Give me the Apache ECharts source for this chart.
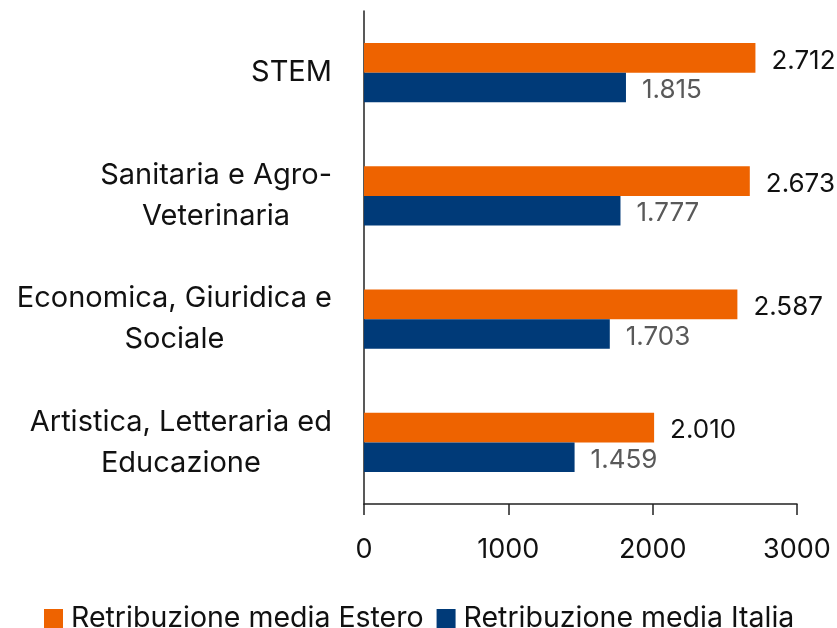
<!DOCTYPE html>
<html>
	<head>
		<meta charset="utf-8">
		<title></title>
		<script src="https://cdn.jsdelivr.net/npm/echarts@6/dist/echarts.min.js"></script>
		<style>
			html, body { margin: 0; padding: 0; background: #fff; }
			#chart { width: 837px; height: 628px; }
		</style>
	</head>
	<body>
		<div id="chart"></div>
		<script>
			// dati
			const categories = [
				'STEM',
				'Sanitaria e Agro-\nVeterinaria',
				'Economica, Giuridica e\nSociale',
				'Artistica, Letteraria ed\nEducazione'
			];
			const estero = [2712, 2673, 2587, 2010];
			const italia = [1815, 1777, 1703, 1459];
			const xTicks = [0, 1000, 2000, 3000];

			const font = 'Inter, "Noto Sans", sans-serif';
			const fmt = function (p) {
				return p.value.toLocaleString('de-DE');
			};

			const chart = echarts.init(document.getElementById('chart'), null, {renderer: 'canvas'});
			const option = {
				animation: false,
				textStyle: { fontFamily: font },
				grid: { left: 364, right: 40, top: 11, bottom: 124 },
				legend: {
					left: 44,
					top: 604,
					padding: 0,
					icon: 'rect',
					itemWidth: 19,
					itemHeight: 19,
					itemGap: 13,
					textStyle: { fontSize: 28.5, color: '#111', fontFamily: font, padding: [0, 0, 0, 3] },
					data: ['Retribuzione media Estero', 'Retribuzione media Italia']
				},
				xAxis: {
					type: 'value',
					min: xTicks[0],
					max: xTicks[xTicks.length - 1],
					interval: 1000,
					axisLine: { show: true, lineStyle: { color: '#222', width: 1.5 } },
					axisTick: { show: true, length: 11, lineStyle: { color: '#222', width: 1.5 } },
					axisLabel: { fontSize: 27, color: '#111', margin: 32, fontFamily: font, formatter: function (v) { return String(v); } },
					splitLine: { show: false }
				},
				yAxis: {
					type: 'category',
					inverse: true,
					data: categories,
					axisLine: { show: true, lineStyle: { color: '#222', width: 1.5 } },
					axisTick: { show: false },
					axisLabel: {
						margin: 32,
						color: '#111',
						fontSize: 29,
						lineHeight: 41,
						fontFamily: font,
						formatter: function (v) {
							return v.split('\n').map(function (s) { return '{c|' + s + '}'; }).join('\n');
						},
						rich: {
							c: { align: 'center', fontSize: 29, lineHeight: 41, color: '#111', fontFamily: font }
						}
					}
				},
				series: [
					{
						name: 'Retribuzione media Estero',
						type: 'bar',
						data: estero,
						barGap: '0%',
						barCategoryGap: '52%',
						itemStyle: { color: '#EE6300' },
						label: { show: true, position: 'right', distance: 16, offset: [0, 3], fontSize: 26, color: '#111', fontFamily: font, formatter: fmt }
					},
					{
						name: 'Retribuzione media Italia',
						type: 'bar',
						data: italia,
						barGap: '0%',
						barCategoryGap: '52%',
						itemStyle: { color: '#003A78' },
						label: { show: true, position: 'right', distance: 16, offset: [0, 3], fontSize: 26, color: '#595959', fontFamily: font, formatter: fmt }
					}
				]
			};
			chart.setOption(option);
		</script>
	</body>
</html>
